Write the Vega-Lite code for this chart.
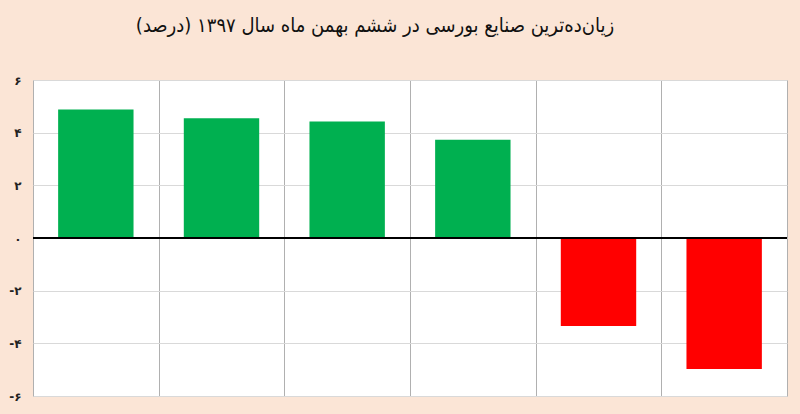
{
  "$schema": "https://vega.github.io/schema/vega-lite/v6.json",
  "autosize": "none",
  "width": 754,
  "height": 316,
  "padding": {"left": 33, "top": 80, "right": 13, "bottom": 18},
  "background": "#fbe5d6",
  "title": {
    "text": "زیان‌ده‌ترین صنایع بورسی در ششم بهمن ماه سال ۱۳۹۷ (درصد)",
    "font": "DejaVu Sans Condensed",
    "fontSize": 20,
    "fontWeight": "normal",
    "color": "#111111",
    "anchor": "middle",
    "dx": -35,
    "offset": 38
  },
  "config": {
    "view": {"stroke": "#bfbfbf", "fill": "#ffffff", "strokeWidth": 1}
  },
  "data": {
    "values": [
      {"industry": "صنعت ۱", "value": 4.88},
      {"industry": "صنعت ۲", "value": 4.55},
      {"industry": "صنعت ۳", "value": 4.42},
      {"industry": "صنعت ۴", "value": 3.73},
      {"industry": "صنعت ۵", "value": -3.34},
      {"industry": "صنعت ۶", "value": -4.97}
    ]
  },
  "layer": [
    {
      "mark": {"type": "bar", "width": {"band": 0.6}},
      "encoding": {
        "x": {
          "field": "industry",
          "type": "nominal",
          "sort": null,
          "scale": {"paddingInner": 0, "paddingOuter": 0},
          "axis": {
            "title": null,
            "labels": false,
            "ticks": false,
            "domain": false,
            "grid": true,
            "gridColor": "#b0b0b0",
            "gridWidth": 1,
            "tickBand": "extent"
          }
        },
        "y": {
          "field": "value",
          "type": "quantitative",
          "scale": {"domain": [-6, 6], "nice": false},
          "axis": {
            "title": null,
            "values": [-6, -4, -2, 0, 2, 4, 6],
            "domain": false,
            "ticks": false,
            "grid": true,
            "gridColor": "#d9d9d9",
            "labelPadding": 12,
            "labelFont": "DejaVu Sans",
            "labelFontSize": 12,
            "labelFontWeight": "bold",
            "labelColor": "#222222",
            "labelExpr": "datum.value == 6 ? '۶' : datum.value == 4 ? '۴' : datum.value == 2 ? '۲' : datum.value == 0 ? '۰' : datum.value == -2 ? '-۲' : datum.value == -4 ? '-۴' : '-۶'"
          }
        },
        "color": {
          "condition": {"test": "datum.value > 0", "value": "#00b050"},
          "value": "#ff0000"
        }
      }
    },
    {
      "mark": {"type": "rule", "color": "#000000", "strokeWidth": 1.5},
      "encoding": {
        "y": {"datum": 0, "type": "quantitative"}
      }
    }
  ]
}
